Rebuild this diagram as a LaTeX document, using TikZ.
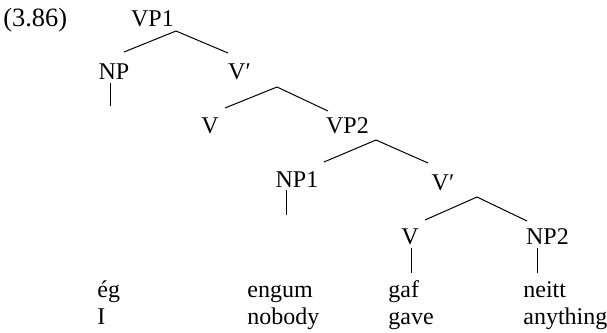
\documentclass[tikz,border=0pt]{standalone}
\usepackage{fontspec}
\setmainfont{Liberation Serif}

\tikzset{
  cat/.style={inner sep=0pt, anchor=base, font=\fontsize{12}{14}\selectfont},
  word/.style={cat, anchor=base west},
  branch/.style={line width=0.5pt}
}

\begin{document}
\begin{tikzpicture}[x=0.5pt, y=-0.5pt]
    \useasboundingbox (0,0) rectangle (607,333);

    % example number
    \node[word, font=\fontsize{13.2}{15}\selectfont] (exnum) at (3,26) {(3.86)};

    % category labels, top to bottom
    \node[cat] (vp1) at (152.5,26) {VP1};
    \node[cat] (np) at (114,79) {NP};
    \node[cat] (vbar1) at (239.5,79) {V′};
    \node[cat] (v1) at (210,133) {V};
    \node[cat] (vp2) at (347.5,133) {VP2};
    \node[cat] (np1) at (297,187) {NP1};
    \node[cat] (vbar2) at (443,190) {V′};
    \node[cat] (v2) at (410,244) {V};
    \node[cat] (np2) at (547.5,244) {NP2};

    % branching points and branch ends
    \coordinate (vp1-fork) at (176,31);
    \coordinate (vp1-left) at (124,52);
    \coordinate (vp1-right) at (228,53);
    \coordinate (vbar1-fork) at (277,87);
    \coordinate (vbar1-left) at (225,108);
    \coordinate (vbar1-right) at (328,111);
    \coordinate (vp2-fork) at (376,140);
    \coordinate (vp2-left) at (324,162);
    \coordinate (vp2-right) at (428,163);
    \coordinate (vbar2-fork) at (477,197);
    \coordinate (vbar2-left) at (425,220);
    \coordinate (vbar2-right) at (527,221);

    \draw[branch] (vp1-left) -- (vp1-fork) -- (vp1-right);
    \draw[branch] (vbar1-left) -- (vbar1-fork) -- (vbar1-right);
    \draw[branch] (vp2-left) -- (vp2-fork) -- (vp2-right);
    \draw[branch] (vbar2-left) -- (vbar2-fork) -- (vbar2-right);

    % unary stems down to the words
    \coordinate (np-top) at (110,83);
    \coordinate (np-bot) at (110,106);
    \coordinate (np1-top) at (286,190);
    \coordinate (np1-bot) at (286,215);
    \coordinate (v2-top) at (411,248);
    \coordinate (v2-bot) at (411,273);
    \coordinate (np2-top) at (537,248);
    \coordinate (np2-bot) at (537,273);

    \draw[branch] (np-top) -- (np-bot);
    \draw[branch] (np1-top) -- (np1-bot);
    \draw[branch] (v2-top) -- (v2-bot);
    \draw[branch] (np2-top) -- (np2-bot);

    % words and glosses
    \node[word] (eg) at (97,297) {ég};
    \node[word] (engum) at (247,297) {engum};
    \node[word] (gaf) at (388,297) {gaf};
    \node[word] (neitt) at (523,297) {neitt};
    \node[word] (gl-i) at (97,324.5) {I};
    \node[word] (gl-nobody) at (247,324.5) {nobody};
    \node[word] (gl-gave) at (388,324.5) {gave};
    \node[word] (gl-anything) at (523,324.5) {anything};
\end{tikzpicture}
\end{document}
